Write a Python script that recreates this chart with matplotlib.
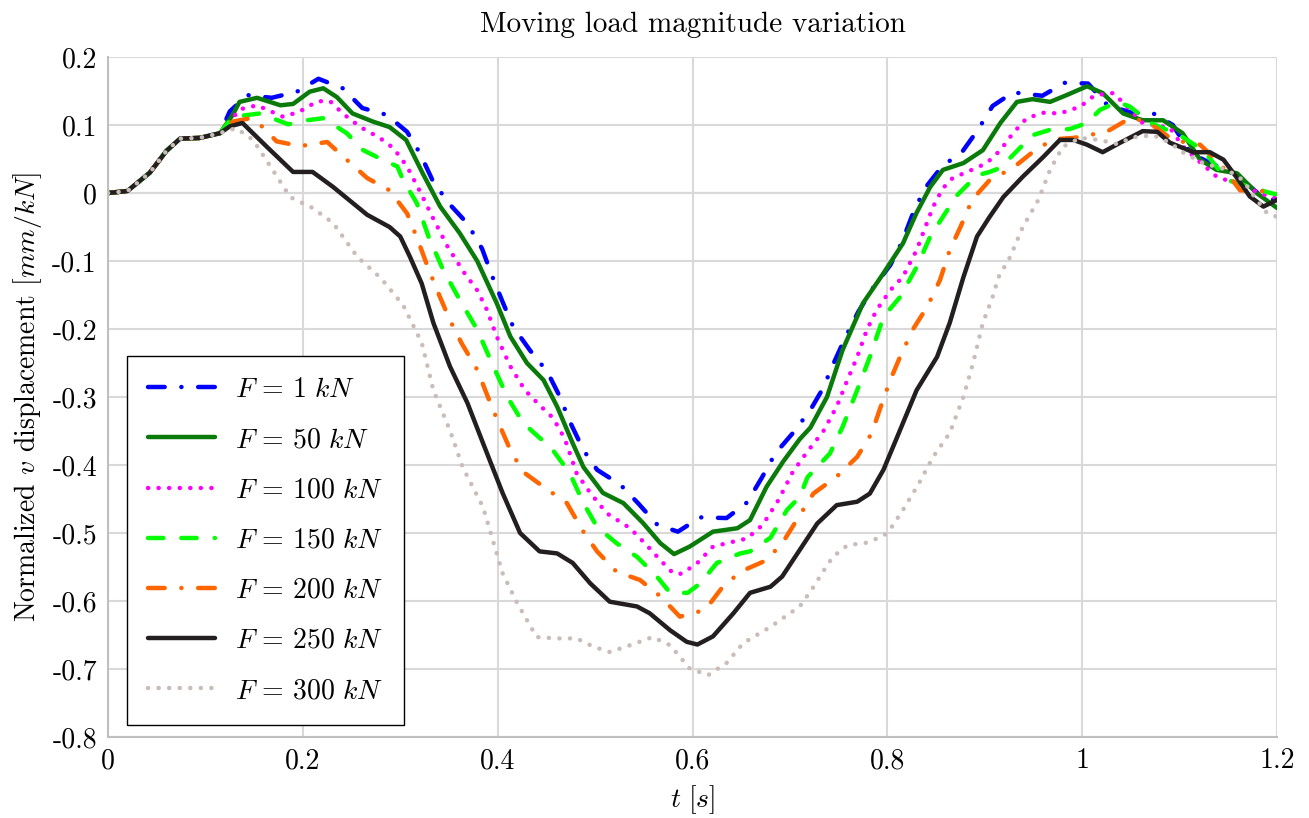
import matplotlib
matplotlib.use("Agg")
import matplotlib.pyplot as plt

plt.rcParams['font.family'] = 'serif'
plt.rcParams['font.serif'] = ['cmr10']
plt.rcParams['mathtext.fontset'] = 'cm'
plt.rcParams['axes.unicode_minus'] = False
plt.rcParams['lines.scale_dashes'] = False

# common start shared by all curves
t_start = [0.0, 0.02, 0.043, 0.06, 0.074, 0.094, 0.115]
v_start = [0.0, 0.003, 0.03, 0.062, 0.08, 0.081, 0.088]

t_f1 = [0.125, 0.143, 0.168, 0.194, 0.216, 0.241, 0.261, 0.286, 0.307, 0.32, 0.334, 0.351,
        0.369, 0.384, 0.394, 0.405, 0.416, 0.433, 0.451, 0.464, 0.474, 0.488, 0.502, 0.526,
        0.544, 0.564, 0.585, 0.608, 0.635, 0.656, 0.671, 0.685, 0.703, 0.721, 0.734, 0.744,
        0.757, 0.77, 0.785, 0.803, 0.815, 0.826, 0.838, 0.856, 0.877, 0.893, 0.908, 0.929,
        0.959, 0.982, 1.006, 1.026, 1.051, 1.073, 1.093, 1.111, 1.13, 1.16, 1.18, 1.2]
v_f1 = [0.12, 0.144, 0.14, 0.149, 0.168, 0.154, 0.125, 0.115, 0.09, 0.059, 0.016, -0.017,
        -0.045, -0.082, -0.121, -0.16, -0.197, -0.231, -0.263, -0.3, -0.336, -0.378, -0.407, -0.429,
        -0.456, -0.488, -0.498, -0.477, -0.478, -0.455, -0.419, -0.383, -0.353, -0.319, -0.287, -0.253,
        -0.212, -0.175, -0.14, -0.106, -0.072, -0.031, 0.006, 0.039, 0.061, 0.093, 0.128, 0.148,
        0.143, 0.162, 0.161, 0.129, 0.118, 0.117, 0.1, 0.059, 0.045, 0.025, 0.0, -0.012]

t_f50 = [0.128, 0.135, 0.153, 0.177, 0.19, 0.207, 0.221, 0.235, 0.251, 0.272, 0.289, 0.306,
         0.323, 0.341, 0.361, 0.379, 0.399, 0.413, 0.43, 0.447, 0.461, 0.477, 0.488, 0.508,
         0.529, 0.549, 0.567, 0.581, 0.597, 0.621, 0.646, 0.659, 0.676, 0.693, 0.71, 0.721,
         0.738, 0.754, 0.775, 0.796, 0.816, 0.83, 0.844, 0.857, 0.878, 0.898, 0.916, 0.933,
         0.949, 0.967, 0.984, 1.005, 1.021, 1.042, 1.062, 1.083, 1.103, 1.121, 1.138, 1.159,
         1.179, 1.2]
v_f50 = [0.115, 0.134, 0.14, 0.129, 0.131, 0.149, 0.154, 0.141, 0.117, 0.105, 0.097, 0.078,
         0.029, -0.02, -0.059, -0.1, -0.162, -0.211, -0.25, -0.275, -0.314, -0.368, -0.403, -0.441,
         -0.456, -0.485, -0.515, -0.531, -0.52, -0.498, -0.493, -0.481, -0.432, -0.395, -0.362, -0.345,
         -0.3, -0.231, -0.162, -0.118, -0.074, -0.029, 0.009, 0.034, 0.044, 0.063, 0.103, 0.134,
         0.138, 0.134, 0.144, 0.157, 0.147, 0.117, 0.107, 0.107, 0.088, 0.049, 0.034, 0.029,
         0.0, -0.022]

t_f100 = [0.128, 0.135, 0.153, 0.18, 0.197, 0.215, 0.228, 0.241, 0.259, 0.279, 0.293, 0.307,
          0.321, 0.334, 0.349, 0.366, 0.379, 0.389, 0.399, 0.413, 0.428, 0.443, 0.457, 0.469,
          0.481, 0.495, 0.512, 0.536, 0.553, 0.567, 0.58, 0.589, 0.605, 0.621, 0.638, 0.656,
          0.672, 0.688, 0.703, 0.718, 0.734, 0.748, 0.759, 0.769, 0.779, 0.789, 0.803, 0.816,
          0.83, 0.839, 0.847, 0.857, 0.867, 0.885, 0.902, 0.916, 0.929, 0.943, 0.96, 0.977,
          0.998, 1.013, 1.032, 1.046, 1.062, 1.09, 1.103, 1.118, 1.138, 1.162, 1.193, 1.2]
v_f100 = [0.11, 0.123, 0.129, 0.112, 0.12, 0.135, 0.135, 0.117, 0.097, 0.081, 0.066, 0.039,
          0.0, -0.038, -0.08, -0.118, -0.143, -0.172, -0.211, -0.255, -0.29, -0.312, -0.331, -0.362,
          -0.412, -0.441, -0.471, -0.493, -0.518, -0.54, -0.559, -0.56, -0.544, -0.52, -0.514, -0.508,
          -0.488, -0.452, -0.41, -0.38, -0.351, -0.314, -0.275, -0.241, -0.201, -0.172, -0.143, -0.123,
          -0.084, -0.05, -0.02, 0.007, 0.022, 0.033, 0.044, 0.063, 0.088, 0.11, 0.118, 0.117,
          0.127, 0.144, 0.147, 0.127, 0.103, 0.096, 0.069, 0.049, 0.024, 0.012, -0.006, -0.008]

t_f150 = [0.128, 0.156, 0.185, 0.204, 0.221, 0.245, 0.262, 0.276, 0.297, 0.303, 0.317, 0.329,
          0.344, 0.361, 0.379, 0.394, 0.41, 0.426, 0.443, 0.454, 0.474, 0.488, 0.502, 0.522,
          0.543, 0.564, 0.577, 0.595, 0.608, 0.625, 0.649, 0.659, 0.68, 0.697, 0.71, 0.718,
          0.741, 0.754, 0.769, 0.782, 0.796, 0.813, 0.83, 0.844, 0.857, 0.871, 0.892, 0.905,
          0.916, 0.929, 0.949, 0.967, 0.987, 1.005, 1.018, 1.036, 1.049, 1.07, 1.1, 1.124,
          1.149, 1.172, 1.193, 1.2]
v_f150 = [0.112, 0.117, 0.101, 0.107, 0.11, 0.088, 0.063, 0.053, 0.039, 0.019, -0.015, -0.064,
          -0.113, -0.157, -0.201, -0.25, -0.3, -0.338, -0.36, -0.373, -0.412, -0.456, -0.491, -0.515,
          -0.535, -0.565, -0.588, -0.588, -0.574, -0.544, -0.53, -0.527, -0.507, -0.466, -0.447, -0.418,
          -0.383, -0.344, -0.29, -0.241, -0.182, -0.153, -0.109, -0.064, -0.035, -0.004, 0.026, 0.031,
          0.037, 0.056, 0.085, 0.093, 0.094, 0.103, 0.122, 0.134, 0.127, 0.103, 0.085, 0.063,
          0.019, 0.009, 0.0, -0.002]

t_f200 = [0.128, 0.146, 0.159, 0.173, 0.197, 0.225, 0.245, 0.266, 0.289, 0.307, 0.318, 0.328,
          0.339, 0.351, 0.363, 0.379, 0.39, 0.4, 0.413, 0.426, 0.447, 0.471, 0.487, 0.502,
          0.522, 0.546, 0.567, 0.587, 0.613, 0.63, 0.649, 0.676, 0.693, 0.71, 0.724, 0.748,
          0.769, 0.784, 0.792, 0.803, 0.813, 0.826, 0.841, 0.854, 0.864, 0.875, 0.887, 0.905,
          0.929, 0.949, 0.97, 0.991, 1.025, 1.049, 1.067, 1.093, 1.121, 1.141, 1.162, 1.2]
v_f200 = [0.105, 0.11, 0.097, 0.076, 0.069, 0.075, 0.049, 0.022, 0.004, -0.03, -0.069, -0.108,
          -0.147, -0.187, -0.221, -0.26, -0.3, -0.335, -0.378, -0.41, -0.432, -0.456, -0.496, -0.527,
          -0.557, -0.569, -0.593, -0.623, -0.613, -0.581, -0.557, -0.54, -0.513, -0.474, -0.442, -0.417,
          -0.388, -0.353, -0.319, -0.275, -0.241, -0.201, -0.167, -0.128, -0.084, -0.05, -0.01, 0.019,
          0.037, 0.06, 0.079, 0.081, 0.09, 0.11, 0.105, 0.078, 0.071, 0.044, 0.004, 0.002]

t_f250 = [0.125, 0.138, 0.163, 0.19, 0.21, 0.231, 0.266, 0.289, 0.3, 0.31, 0.322, 0.334,
          0.351, 0.369, 0.385, 0.405, 0.423, 0.443, 0.461, 0.477, 0.495, 0.515, 0.543, 0.556,
          0.577, 0.594, 0.605, 0.621, 0.642, 0.659, 0.68, 0.692, 0.71, 0.728, 0.748, 0.769,
          0.782, 0.796, 0.81, 0.83, 0.851, 0.864, 0.878, 0.892, 0.905, 0.919, 0.939, 0.96,
          0.977, 0.991, 1.005, 1.021, 1.039, 1.062, 1.077, 1.09, 1.114, 1.131, 1.145, 1.159,
          1.172, 1.186, 1.2]
v_f250 = [0.098, 0.103, 0.068, 0.031, 0.031, 0.009, -0.032, -0.05, -0.064, -0.094, -0.133, -0.191,
          -0.255, -0.309, -0.368, -0.441, -0.5, -0.527, -0.53, -0.544, -0.574, -0.601, -0.608, -0.618,
          -0.643, -0.66, -0.664, -0.652, -0.618, -0.588, -0.579, -0.564, -0.525, -0.486, -0.459, -0.454,
          -0.442, -0.407, -0.359, -0.29, -0.241, -0.191, -0.124, -0.064, -0.035, -0.006, 0.024, 0.053,
          0.078, 0.078, 0.071, 0.06, 0.074, 0.091, 0.09, 0.074, 0.06, 0.06, 0.049, 0.022,
          -0.005, -0.02, -0.01]

t_f300 = [0.125, 0.132, 0.149, 0.169, 0.187, 0.21, 0.231, 0.256, 0.28, 0.303, 0.322, 0.334,
          0.351, 0.364, 0.385, 0.405, 0.42, 0.44, 0.461, 0.481, 0.498, 0.515, 0.536, 0.559,
          0.577, 0.597, 0.616, 0.635, 0.652, 0.68, 0.7, 0.71, 0.722, 0.733, 0.744, 0.759,
          0.78, 0.797, 0.805, 0.816, 0.832, 0.847, 0.864, 0.878, 0.888, 0.898, 0.908, 0.914,
          0.926, 0.939, 0.955, 0.967, 0.98, 0.998, 1.018, 1.036, 1.052, 1.073, 1.09, 1.103,
          1.124, 1.149, 1.165, 1.177, 1.19, 1.2]
v_f300 = [0.093, 0.095, 0.078, 0.034, -0.006, -0.022, -0.044, -0.094, -0.125, -0.165, -0.22, -0.29,
          -0.349, -0.403, -0.462, -0.559, -0.603, -0.653, -0.655, -0.655, -0.667, -0.675, -0.665, -0.653,
          -0.665, -0.699, -0.709, -0.691, -0.662, -0.638, -0.618, -0.608, -0.584, -0.559, -0.535, -0.518,
          -0.514, -0.503, -0.49, -0.466, -0.428, -0.388, -0.353, -0.3, -0.25, -0.191, -0.153, -0.124,
          -0.094, -0.05, -0.01, 0.034, 0.068, 0.081, 0.078, 0.072, 0.082, 0.085, 0.074, 0.06,
          0.044, 0.034, 0.019, -0.006, -0.03, -0.035]

labels = [r'$F\,=\,1\ kN$', r'$F\,=\,50\ kN$', r'$F\,=\,100\ kN$', r'$F\,=\,150\ kN$',
          r'$F\,=\,200\ kN$', r'$F\,=\,250\ kN$', r'$F\,=\,300\ kN$']
series = [(t_f1, v_f1), (t_f50, v_f50), (t_f100, v_f100), (t_f150, v_f150),
          (t_f200, v_f200), (t_f250, v_f250), (t_f300, v_f300)]
colors = ['#0000ff', '#0a7a0a', '#ff00ff', '#00ff00', '#ff6600', '#231f20', '#c8bdb8']
dashes = [(12, 12, 0.1, 12), None, (0.1, 7.5), (11, 13), (12, 12, 0.1, 12), None, (0.1, 7.5)]

yticks = [-0.8, -0.7, -0.6, -0.5, -0.4, -0.3, -0.2, -0.1, 0, 0.1, 0.2]
ytick_labels = ['-0.8', '-0.7', '-0.6', '-0.5', '-0.4', '-0.3', '-0.2', '-0.1', '0', '0.1', '0.2']
xticks = [0, 0.2, 0.4, 0.6, 0.8, 1.0, 1.2]
xtick_labels = ['0', '0.2', '0.4', '0.6', '0.8', '1', '1.2']

fig = plt.figure(figsize=(13.09, 8.18), dpi=100)
ax = fig.add_axes([0.0825, 0.099, 0.8931, 0.8313])

for (t, v), lab, col, ds in zip(series, labels, colors, dashes):
    line, = ax.plot(t_start + t, v_start + v, color=col, lw=3.2, label=lab,
                    solid_capstyle='round', dash_capstyle='round', solid_joinstyle='round')
    if ds is not None:
        line.set_dashes(ds)

ax.set_xlim(0, 1.2)
ax.set_ylim(-0.8, 0.2)
ax.set_xticks(xticks)
ax.set_xticklabels(xtick_labels)
ax.set_yticks(yticks)
ax.set_yticklabels(ytick_labels)
ax.tick_params(length=0, labelsize=20, pad=8)
ax.grid(True, color='#d9d9d9', lw=1.5)
ax.axhline(0, color='#bfbfbf', lw=1.5, zorder=0.5)
ax.set_axisbelow(True)
for side in ['top', 'right']:
    ax.spines[side].set_visible(False)
for side in ['left', 'bottom']:
    ax.spines[side].set_color('#bfbfbf')
    ax.spines[side].set_linewidth(1.5)

ax.set_title('Moving load magnitude variation', fontsize=21, pad=18)
ax.set_xlabel(r'$t\ [s]$', fontsize=20, labelpad=6)
ax.set_ylabel(r'Normalized $v$ displacement $[mm/kN]$', fontsize=20, labelpad=6)

leg = ax.legend(loc='lower left', bbox_to_anchor=(0.0163, 0.0176), fontsize=20,
                frameon=True, fancybox=False, edgecolor='black', framealpha=1,
                handlelength=2.4, labelspacing=0.86, borderpad=0.75, handletextpad=0.75,
                borderaxespad=0)
leg.get_frame().set_linewidth(1.0)

fig.savefig('out.png', dpi=100)
